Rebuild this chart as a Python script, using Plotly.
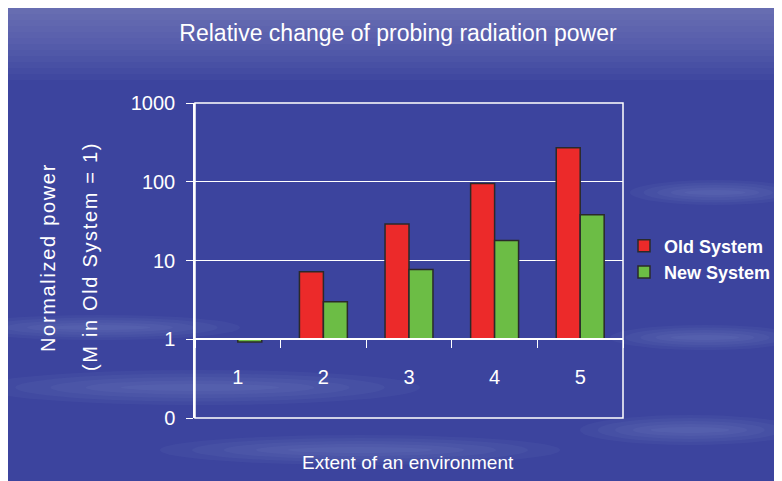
import plotly.graph_objects as go

# data
categories = ["1", "2", "3", "4", "5"]
old_system = [1.0, 7.2, 29, 95, 270]
new_system = [0.92, 3.0, 7.7, 18, 38]
y_tickvals = [0.1, 1, 10, 100, 1000]
y_ticktext = ["0", "1", "10", "100", "1000"]

BASE = 1.0
W, H = 782, 481
OFF = 8  # page body margin
L, R, T, B = 195, 623, 103, 418  # plot area in screen pixels

WHITE = "#ffffff"
BG = "#3c449e"
FONT = "Liberation Sans, Arial, sans-serif"


def px(x):
    return (x - L) / (R - L)


def py(y):
    return (B - y) / (B - T)


def spaced(text):
    return "\u200a".join(text)


fig = go.Figure()
fig.add_bar(
    x=categories, y=[v - BASE for v in old_system], base=[BASE] * len(old_system),
    name="Old System", marker_color="#ec2a2a",
    marker_line={"color": "#2a2a2a", "width": 1.5},
)
fig.add_bar(
    x=categories, y=[v - BASE for v in new_system], base=[BASE] * len(new_system),
    name="New System", marker_color="#6cbd45",
    marker_line={"color": "#2a2a2a", "width": 1.5},
)

shapes = []
# lighter top of the background, faded in small steps
for i in range(12):
    y1 = 8 + 6 * (i + 1)
    shapes.append({"type": "rect", "xref": "paper", "yref": "paper", "layer": "below",
                   "x0": px(0), "x1": px(W + 20), "y0": py(y1), "y1": py(0),
                   "fillcolor": "rgba(190,195,235,0.035)", "line": {"width": 0}})
# soft cloud streaks
streaks = [(-40, 315, 240, 340), (-20, 370, 420, 405), (580, 415, 800, 445),
           (630, 180, 800, 205), (610, 325, 800, 350), (160, 435, 560, 465)]
for x0, y0, x1, y1 in streaks:
    for k in range(5):
        dx = (x1 - x0) * 0.08 * k
        dy = (y1 - y0) * 0.1 * k
        shapes.append({"type": "circle", "xref": "paper", "yref": "paper", "layer": "below",
                       "x0": px(x0 + dx), "x1": px(x1 - dx), "y0": py(y1 - dy), "y1": py(y0 + dy),
                       "fillcolor": "rgba(215,220,255,0.04)", "line": {"width": 0}})
# plot frame
shapes.append({"type": "rect", "xref": "paper", "yref": "paper", "x0": 0, "x1": 1, "y0": 0, "y1": 1,
               "line": {"color": WHITE, "width": 1.5}})

fig.update_layout(
    width=W, height=H,
    margin={"l": L - OFF, "r": W - R + OFF, "t": T - OFF, "b": H - B + OFF, "autoexpand": False},
    paper_bgcolor=BG,
    plot_bgcolor="rgba(0,0,0,0)",
    barmode="group", bargap=0.44, bargroupgap=0,
    showlegend=True,
    legend={"x": px(624), "y": py(259), "xanchor": "left", "yanchor": "middle",
            "bgcolor": "rgba(0,0,0,0)", "tracegroupgap": 12,
            "font": {"family": FONT, "size": 18, "color": WHITE, "weight": "bold"}},
    title={"text": "Relative change of probing radiation power", "x": (398 - OFF) / W, "xanchor": "center",
           "y": 1 - (33 - OFF) / H, "yanchor": "middle",
           "font": {"family": FONT, "size": 23, "color": WHITE}},
    shapes=shapes,
    annotations=[
        {"text": "Extent of an environment", "xref": "paper", "yref": "paper",
         "x": px(408), "y": py(462), "xanchor": "center", "yanchor": "middle", "showarrow": False,
         "font": {"family": FONT, "size": 19, "color": WHITE}},
        {"text": spaced("Normalized") + "\u2002" + spaced("power"), "xref": "paper", "yref": "paper",
         "x": px(48), "y": py(258), "xanchor": "center", "yanchor": "middle",
         "textangle": -90, "showarrow": False,
         "font": {"family": FONT, "size": 20, "color": WHITE}},
        {"text": spaced("(M in Old System = 1)"), "xref": "paper", "yref": "paper",
         "x": px(90), "y": py(258), "xanchor": "center", "yanchor": "middle",
         "textangle": -90, "showarrow": False,
         "font": {"family": FONT, "size": 20, "color": WHITE}},
    ],
)
fig.update_yaxes(
    type="log", range=[-1, 3], tickvals=y_tickvals, ticktext=y_ticktext,
    showgrid=True, gridcolor=WHITE, gridwidth=1, zeroline=False,
    showline=True, linecolor=WHITE, linewidth=1.5,
    ticks="outside", ticklen=7, tickcolor=WHITE, ticklabelstandoff=7,
    tickfont={"family": FONT, "size": 20, "color": WHITE},
)
fig.update_xaxes(
    type="category", range=[-0.5, 4.5], anchor="free", position=py(339),
    showgrid=False, showline=True, linecolor=WHITE, linewidth=1.5,
    ticks="outside", ticklen=8, tickcolor=WHITE, tickson="boundaries",
    ticklabelstandoff=20,
    tickfont={"family": FONT, "size": 20, "color": WHITE},
)

fig.write_html("out.html")
